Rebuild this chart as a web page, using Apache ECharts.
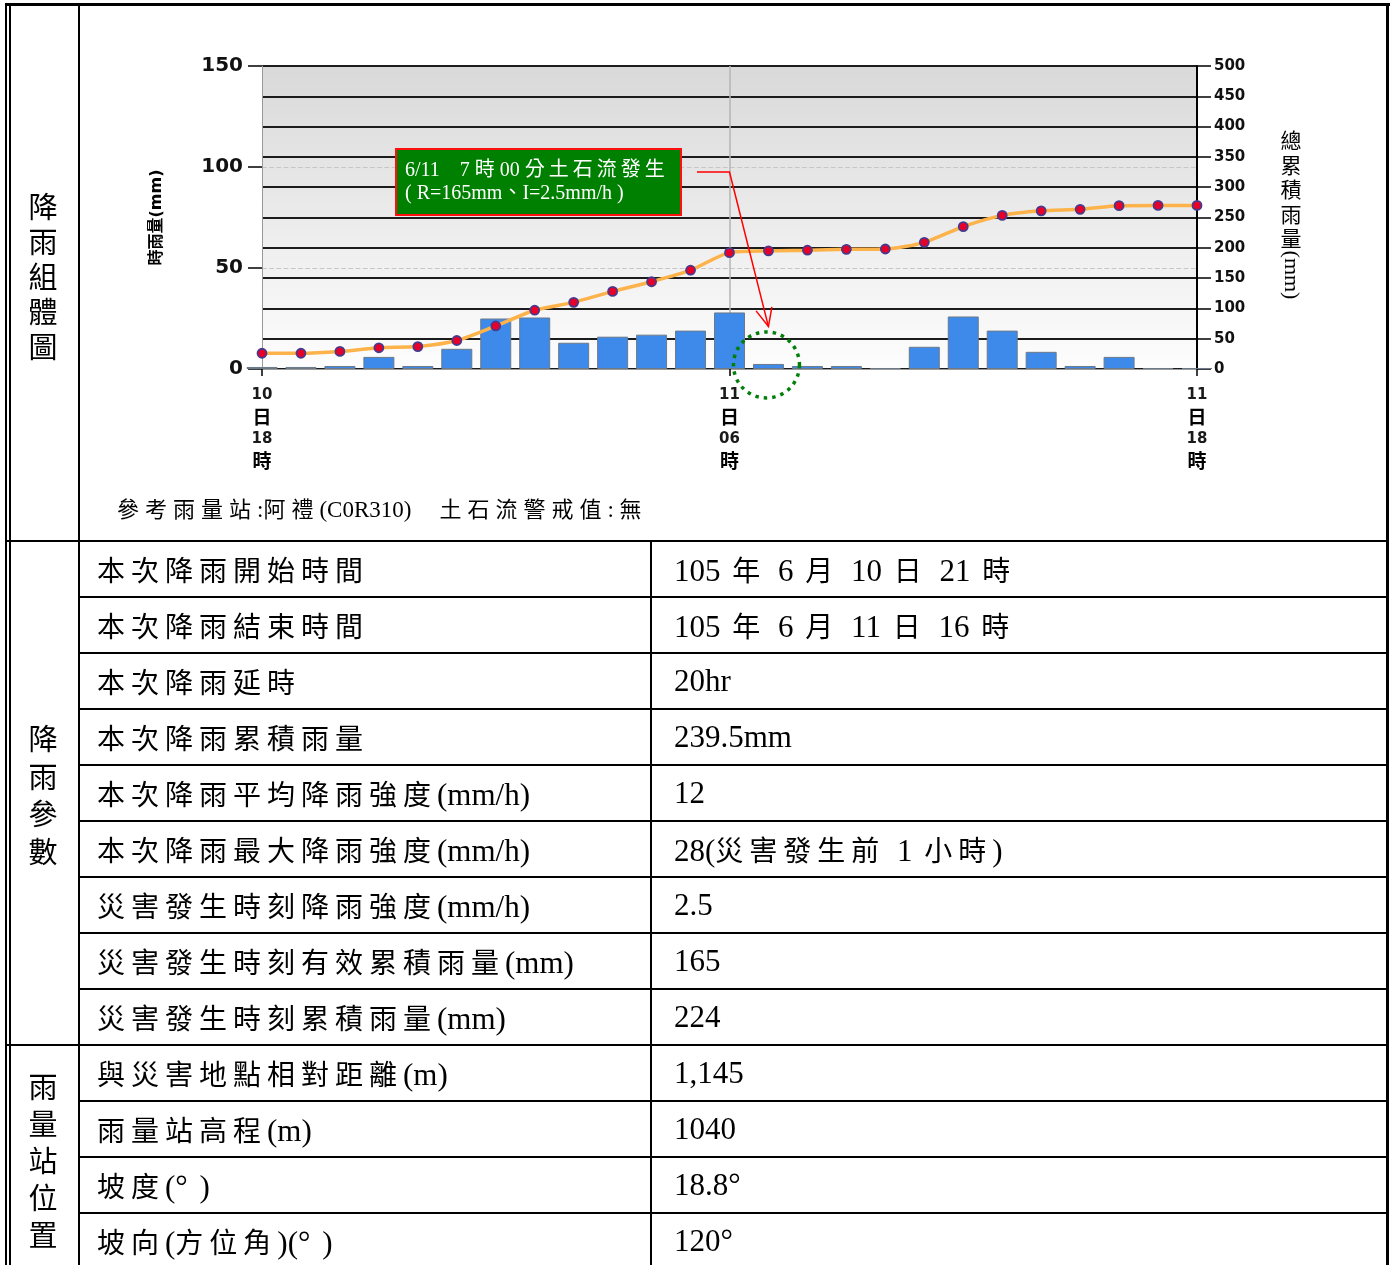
<!DOCTYPE html>
<html><head><meta charset="utf-8">
<script src="https://cdn.jsdelivr.net/npm/echarts@6/dist/echarts.min.js"></script>
<style>
html,body{margin:0;padding:0;background:#fff;width:1395px;height:1265px;overflow:hidden;position:relative;}
.ln{position:absolute;background:#000;}
.t{position:absolute;font-family:"Liberation Serif","Noto Sans CJK TC",serif;font-size:31px;color:#000;white-space:nowrap;height:56px;line-height:56px;word-spacing:4px;}
.cjk{letter-spacing:6px;font-family:"Noto Sans CJK TC";font-size:28px;}
.vl{position:absolute;font-family:"Noto Sans CJK TC";font-size:29px;width:72px;left:7px;text-align:center;color:#000;}
.note{position:absolute;left:117px;top:492px;font-family:"Liberation Serif","Noto Sans CJK TC",serif;font-size:23px;line-height:30px;white-space:nowrap;color:#000;word-spacing:0;}
.note .cjk{font-size:22px;letter-spacing:6px;}
#chart{position:absolute;left:0;top:0;width:1395px;height:541px;}
</style></head><body>
<div id="chart"></div>
<script>
// ---- data ----
const hours = ['10日18時','10日19時','10日20時','10日21時','10日22時','10日23時','11日00時','11日01時','11日02時','11日03時','11日04時','11日05時','11日06時','11日07時','11日08時','11日09時','11日10時','11日11時','11日12時','11日13時','11日14時','11日15時','11日16時','11日17時','11日18時'];
const hourlyRain = [1,1,1.5,6,1.5,10,25,25.5,13,16,17,19,28,2.5,1.5,1.5,0.5,11,26,19,8.5,1.5,6,0.5,0.5];
const cumulativeRain = [26,26,29,35,37,47,71,97,110,128,144,163,192,195,196,197.5,198,209,235,253.5,261,263.5,269.5,270,270];
const leftAxisMax = 150, leftAxisStep = 50;
const rightAxisMax = 500, rightAxisStep = 50;
const leftAxisName = '時雨量(mm)';
const rightAxisName = '總累積雨量';
const rightAxisUnit = '(mm)';
const eventLine1 = '6/11　7 時 00 分土石流發生';
const eventLine2 = '( R=165mm、I=2.5mm/h )';
const eventIndex = 13;          // 11日07時
const eventIntensity = 2.5;
const stationNote = '參考雨量站:阿禮(C0R310)　土石流警戒值: 無';
const sectionTitles = ['降雨組體圖','降雨參數','雨量站位置'];
const paramLabels = ['本次降雨開始時間','本次降雨結束時間','本次降雨延時','本次降雨累積雨量','本次降雨平均降雨強度(mm/h)','本次降雨最大降雨強度(mm/h)','災害發生時刻降雨強度(mm/h)','災害發生時刻有效累積雨量(mm)','災害發生時刻累積雨量(mm)'];
const paramValues = ['105 年 6 月 10 日 21 時','105 年 6 月 11 日 16 時','20hr','239.5mm','12','28(災害發生前 1 小時)','2.5','165','224'];
const stationLabels = ['與災害地點相對距離(m)','雨量站高程(m)','坡度(°\u00a0)','坡向(方位角)(°\u00a0)'];
const stationValues = ['1,145','1040','18.8°','120°'];

// ---- table ----
function fmt(s){return s.replace(/([\u3000-\u303f\u3400-\u9fff\uff00-\uffef]+)/g,'<span class="cjk">$1</span>');}
function line(x,y,w,h){const d=document.createElement('div');d.className='ln';d.style.cssText=`left:${x}px;top:${y}px;width:${w}px;height:${h}px`;document.body.appendChild(d);}
function txt(x,y,html,cls){const d=document.createElement('div');d.className=cls||'t';d.style.left=x+'px';d.style.top=y+'px';d.innerHTML=html;document.body.appendChild(d);return d;}
function vlabel(s,centerY,pitch){const d=document.createElement('div');d.className='vl';d.style.lineHeight=pitch+'px';d.innerHTML=s.split('').join('<br>');d.style.top=(centerY-s.length*pitch/2)+'px';document.body.appendChild(d);}
function spaced(s){return s.replace(/([\u3400-\u9fff])(?=[\u3400-\u9fff])/g,'$1\u2009');}

const rowH = 56, sec2Top = 541, sec3Top = sec2Top + rowH*paramLabels.length;
line(5,3,1385,3);
line(5,3,2,1262); line(9,3,2,1262);
line(1386,3,3,1262);
line(78,3,2,1262);
line(5,540,1384,2);
line(5,sec3Top-1,1384,2);
line(650,541,2,724);
paramLabels.forEach((l,i)=>{const y=sec2Top+i*rowH; if(i>0) line(79,y-1,1308,2); txt(97,y,fmt(l)); txt(674,y,fmt(paramValues[i]));});
stationLabels.forEach((l,i)=>{const y=sec3Top+i*rowH; if(i>0) line(79,y-1,1308,2); txt(97,y,fmt(l)); txt(674,y,fmt(stationValues[i]));});
vlabel(sectionTitles[0],275,35);
vlabel(sectionTitles[1],794,37.5);
vlabel(sectionTitles[2],1159,37);
txt(117,492,fmt(stationNote),'note');

// ---- chart ----
const chart = echarts.init(document.getElementById('chart'));
const option = {
  animation:false,
  grid:{left:262,top:66,width:935,height:303,show:true,borderWidth:0,
    backgroundColor:new echarts.graphic.LinearGradient(0,0,0,1,[{offset:0,color:'#d9d9d9'},{offset:1,color:'#fdfdfd'}])},
  xAxis:{type:'category',data:hours,boundaryGap:false,
    axisLine:{lineStyle:{color:'#999',width:1}},
    axisTick:{show:true,interval:11,length:7,lineStyle:{color:'#000',width:1.5}},
    axisLabel:{interval:11,margin:15,color:'#000',fontWeight:'bold',fontSize:15,lineHeight:22,fontFamily:'DejaVu Sans, Noto Sans CJK TC',
      formatter:v=>{const m=v.match(/(\d+)日(\d+)時/);return '{n|'+m[1]+'}\n{c|日}\n{n|'+m[2]+'}\n{c|時}';},
      rich:{n:{fontSize:15,fontWeight:'bold',fontFamily:'DejaVu Sans',color:'#1a1a1a',lineHeight:22},
            c:{fontSize:19,fontWeight:'bold',fontFamily:'Noto Sans CJK TC',color:'#000',lineHeight:22}}},
    splitLine:{show:true,interval:(i)=>i===12,lineStyle:{color:'#b4b4b4',width:1.5}}},
  yAxis:[
    {type:'value',min:0,max:leftAxisMax,interval:leftAxisStep,position:'left',
      name:leftAxisName,nameLocation:'middle',nameGap:97,nameRotate:90,
      nameTextStyle:{color:'#000',fontSize:16,fontWeight:'bold',fontFamily:'DejaVu Sans, Noto Sans CJK TC'},
      axisLine:{show:true,lineStyle:{color:'#999',width:1}},
      axisTick:{show:true,length:14,lineStyle:{color:'#000',width:1.5}},
      axisLabel:{color:'#111',fontSize:20,fontWeight:'bold',fontFamily:'DejaVu Sans',margin:19},
      splitLine:{show:true,lineStyle:{color:'#c6c6c6',type:'dashed',width:1.2}}},
    {type:'value',min:0,max:rightAxisMax,interval:rightAxisStep,position:'right',
      axisLine:{show:true,lineStyle:{color:'#000',width:2}},
      axisTick:{show:true,length:14,lineStyle:{color:'#000',width:1.5}},
      axisLabel:{color:'#111',fontSize:15,fontWeight:'bold',fontFamily:'DejaVu Sans',margin:17},
      splitLine:{show:true,lineStyle:{color:'#1c1c1c',width:2}}}
  ],
  series:[
    {type:'bar',data:hourlyRain,yAxisIndex:0,barWidth:31,clip:true,z:2,
      itemStyle:{color:'#3d8aea',borderColor:'#6c7a88',borderWidth:1}},
    {type:'line',data:cumulativeRain,yAxisIndex:1,smooth:0.25,symbol:'circle',symbolSize:9,z:3,
      lineStyle:{color:'#fdb24a',width:3.5},
      itemStyle:{color:'#e6002a',borderColor:'#463a8c',borderWidth:1.8}}
  ]
};
chart.setOption(option);

// annotations anchored to the event hour via the chart's scales
const ctr = chart.convertToPixel({xAxisIndex:0,yAxisIndex:0},[eventIndex,eventIntensity]);
const tip = chart.convertToPixel({xAxisIndex:0,yAxisIndex:0},[eventIndex,21]);
const elbow = chart.convertToPixel({xAxisIndex:0,yAxisIndex:0},[eventIndex-1.1,97.5]);
const cx = ctr[0]-2, cy = ctr[1]+1;
const ang = Math.atan2(tip[1]-elbow[1], tip[0]-elbow[0]);
const hl = 20, ha = 0.42;
chart.setOption({graphic:[
  {type:'text',x:1291,y:128,style:{text:rightAxisName.split('').join('\n'),fill:'#000',font:'21px "Noto Sans CJK TC"',lineHeight:24.5,align:'center'}},
  {type:'text',x:1291,y:275,rotation:-Math.PI/2,style:{text:rightAxisUnit,fill:'#000',font:'22px "Liberation Serif"',align:'center',verticalAlign:'middle'}},
  {type:'rect',shape:{x:396,y:149,width:285,height:66},style:{fill:'#008000',stroke:'#ff1010',lineWidth:2},z:10},
  {type:'text',x:405,y:159,z:11,style:{text:spaced(eventLine1)+'\n'+eventLine2,fill:'#fff',font:'20px "Liberation Serif", "Noto Sans CJK TC"',lineHeight:23}},
  {type:'polyline',z:10,shape:{points:[[697,172],[elbow[0],172],tip]},style:{stroke:'#ff0000',lineWidth:1.5,fill:null}},
  {type:'polyline',z:10,shape:{points:[
     [tip[0]-hl*Math.cos(ang-ha),tip[1]-hl*Math.sin(ang-ha)],tip,
     [tip[0]-hl*Math.cos(ang+ha),tip[1]-hl*Math.sin(ang+ha)]]},style:{stroke:'#ff0000',lineWidth:1.5,fill:null}},
  {type:'circle',z:10,shape:{cx:cx,cy:cy,r:33},style:{fill:null,stroke:'#00800a',lineWidth:3.5,lineDash:[3.5,5]}}
]});
</script>
</body></html>
